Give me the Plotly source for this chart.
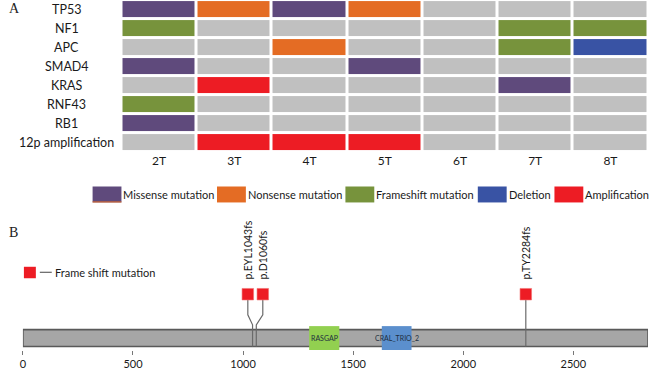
import plotly.graph_objects as go

W, H = 650, 370

# ---------------- Panel A data ----------------
samples = ["2T", "3T", "4T", "5T", "6T", "7T", "8T"]
genes = ["TP53", "NF1", "APC", "SMAD4", "KRAS", "RNF43", "RB1", "12p amplification"]
mut_types = ["None", "Missense mutation", "Nonsense mutation", "Frameshift mutation",
             "Deletion", "Amplification"]
mut_colors = ["#C0C0C0", "#5F4A7C", "#E46C24", "#77933C", "#3953A4", "#ED1C24"]

# codes: 0 none, 1 missense, 2 nonsense, 3 frameshift, 4 deletion, 5 amplification
TP53 = [1, 2, 1, 2, 0, 0, 0]
NF1 = [3, 0, 0, 0, 0, 3, 3]
APC = [0, 0, 2, 0, 0, 3, 4]
SMAD4 = [1, 0, 0, 1, 0, 0, 0]
KRAS = [0, 5, 0, 0, 0, 1, 0]
RNF43 = [3, 0, 0, 0, 0, 0, 0]
RB1 = [1, 0, 0, 0, 0, 0, 0]
AMP12p = [0, 5, 5, 5, 0, 0, 0]
status = [TP53, NF1, APC, SMAD4, KRAS, RNF43, RB1, AMP12p]

# ---------------- Panel B data ----------------
protein_length = 2839
domain_names = ["RASGAP", "CRAL_TRIO_2"]
domain_starts = [1300, 1630]
domain_ends = [1437, 1765]
domain_colors = ["#92D050", "#5B8FCD"]
mut_labels = ["p.EYL1043fs", "p.D1060fs", "p.TY2284fs"]
mut_positions = [1043, 1060, 2284]
axis_ticks = [0, 500, 1000, 1500, 2000, 2500]


def px_x(p):
    return p / W


def px_y(p):
    return 1 - p / H


FONT = "Lato"
FS = 11
TXT = "#1A1A1A"
fig = go.Figure()

# discrete colorscale
n = len(mut_colors)
cs = []
for i, c in enumerate(mut_colors):
    cs.append([i / n, c])
    cs.append([(i + 1) / n, c])

fig.add_trace(go.Heatmap(
    z=status, x=samples, y=genes, colorscale=cs, zmin=-0.5, zmax=n - 0.5,
    showscale=False, xgap=3, ygap=3, hoverinfo="x+y", xaxis="x", yaxis="y"))

# ---------------- Panel B traces ----------------
BAR_Y = 12
fig.add_trace(go.Bar(
    orientation="h", y=[BAR_Y], x=[protein_length], base=[0], width=17,
    marker=dict(color="#A6A6A6", line=dict(color="#595959", width=1.6)),
    xaxis="x2", yaxis="y2", showlegend=False, hoverinfo="skip"))
fig.add_trace(go.Bar(
    orientation="h", y=[BAR_Y] * len(domain_names),
    x=[e - s for s, e in zip(domain_starts, domain_ends)], base=domain_starts,
    width=24, marker=dict(color=domain_colors, line=dict(width=0)),
    xaxis="x2", yaxis="y2", showlegend=False, hovertext=domain_names, hoverinfo="text"))

# spread label positions so close mutations don't overlap
min_gap = 68
disp = list(mut_positions)
for i in range(1, len(disp)):
    if disp[i] - disp[i - 1] < min_gap:
        mid = (mut_positions[i] + mut_positions[i - 1]) / 2 + 4
        disp[i - 1] = mid - min_gap / 2
        disp[i] = mid + min_gap / 2

SQ_Y = 56
for pos, d in zip(mut_positions, disp):
    fig.add_trace(go.Scatter(
        x=[d, d, pos, pos], y=[SQ_Y, 35.3, 25.3, 3.5], mode="lines",
        line=dict(color="#6A6A6A", width=1.2), xaxis="x2", yaxis="y2",
        showlegend=False, hoverinfo="skip"))
fig.add_trace(go.Scatter(
    x=disp, y=[SQ_Y] * len(disp), mode="markers",
    marker=dict(symbol="square", size=11.5, color="#ED1C24",
                line=dict(color="#F27070", width=0.6)),
    xaxis="x2", yaxis="y2", showlegend=False, text=mut_labels, hoverinfo="text"))

annotations = []
shapes = []

# row labels
for g in genes:
    annotations.append(dict(x=px_x(64), xref="paper", y=g, yref="y", text=g,
                            showarrow=False, xanchor="center", yanchor="middle",
                            font=dict(family=FONT, size=12.5, color=TXT)))

# mutation labels
for lab, d in zip(mut_labels, disp):
    annotations.append(dict(x=d, xref="x2", y=SQ_Y + 13, yref="y2", text=lab,
                            textangle=-90, showarrow=False, xanchor="center",
                            yanchor="bottom",
                            font=dict(family=FONT, size=10.5, color=TXT)))

# domain labels
for name, s, e in zip(domain_names, domain_starts, domain_ends):
    annotations.append(dict(x=(s + e) / 2, xref="x2", y=BAR_Y, yref="y2", text=name,
                            showarrow=False, xanchor="center", yanchor="middle",
                            font=dict(family=FONT, size=7, color="#1F2F3F")))

# panel letters
annotations.append(dict(x=px_x(4), y=px_y(9), xref="paper", yref="paper", text="A",
                        showarrow=False, xanchor="left", yanchor="middle",
                        font=dict(family="Liberation Serif", size=14, color="#222")))
annotations.append(dict(x=px_x(4), y=px_y(233), xref="paper", yref="paper", text="B",
                        showarrow=False, xanchor="left", yanchor="middle",
                        font=dict(family="Liberation Serif", size=14, color="#222")))

# Panel A legend
leg_x = [90, 215, 344, 477, 554]
for i, name in enumerate(mut_types[1:]):
    x0 = leg_x[i]
    shapes.append(dict(type="rect", xref="paper", yref="paper",
                       x0=px_x(x0), x1=px_x(x0 + 29), y0=px_y(203), y1=px_y(187),
                       fillcolor=mut_colors[i + 1], line=dict(width=0)))
    annotations.append(dict(x=px_x(x0 + 29), y=px_y(195), xref="paper", yref="paper",
                            text=name, showarrow=False, xanchor="left", yanchor="middle",
                            font=dict(family=FONT, size=FS, color=TXT)))
# thin orange underline on the missense swatch (as in the reference)
shapes.append(dict(type="line", xref="paper", yref="paper",
                   x0=px_x(leg_x[0]), x1=px_x(leg_x[0] + 29), y0=px_y(202.5), y1=px_y(202.5),
                   line=dict(color=mut_colors[2], width=1)))

# Panel B legend
shapes.append(dict(type="rect", xref="paper", yref="paper",
                   x0=px_x(21), x1=px_x(33), y0=px_y(279), y1=px_y(267.5),
                   fillcolor="#ED1C24", line=dict(width=0)))
shapes.append(dict(type="line", xref="paper", yref="paper",
                   x0=px_x(37), x1=px_x(49), y0=px_y(273), y1=px_y(273),
                   line=dict(color="#444", width=1)))
annotations.append(dict(x=px_x(50), y=px_y(273), xref="paper", yref="paper",
                        text="Frame shift mutation", showarrow=False, xanchor="left",
                        yanchor="middle", font=dict(family=FONT, size=FS, color=TXT)))

fig.update_layout(
    width=W, height=H, margin=dict(l=0, r=0, t=0, b=0),
    paper_bgcolor="white", plot_bgcolor="white", barmode="overlay",
    showlegend=False, annotations=annotations, shapes=shapes,
    xaxis=dict(domain=[px_x(119), px_x(648)], showgrid=False, zeroline=False,
               ticks="", showline=False, tickfont=dict(family=FONT, size=12, color=TXT),
               fixedrange=True),
    yaxis=dict(domain=[px_y(152), px_y(0)], autorange="reversed", showticklabels=False,
               showgrid=False, zeroline=False, ticks="", fixedrange=True),
    xaxis2=dict(domain=[px_x(20), px_x(648)], range=[0, protein_length], anchor="y2",
                tickvals=axis_ticks, showgrid=False, zeroline=False, showline=False,
                ticks="outside", ticklen=4, tickcolor="#777", tickwidth=1,
                tickfont=dict(family=FONT, size=FS, color=TXT),
                fixedrange=True),
    yaxis2=dict(domain=[px_y(351), px_y(240)], range=[0, 111], visible=False,
                fixedrange=True),
)

fig.write_html("out.html", config={"displayModeBar": False},
               post_script="document.body.style.margin='0';document.body.style.overflow='hidden';")
